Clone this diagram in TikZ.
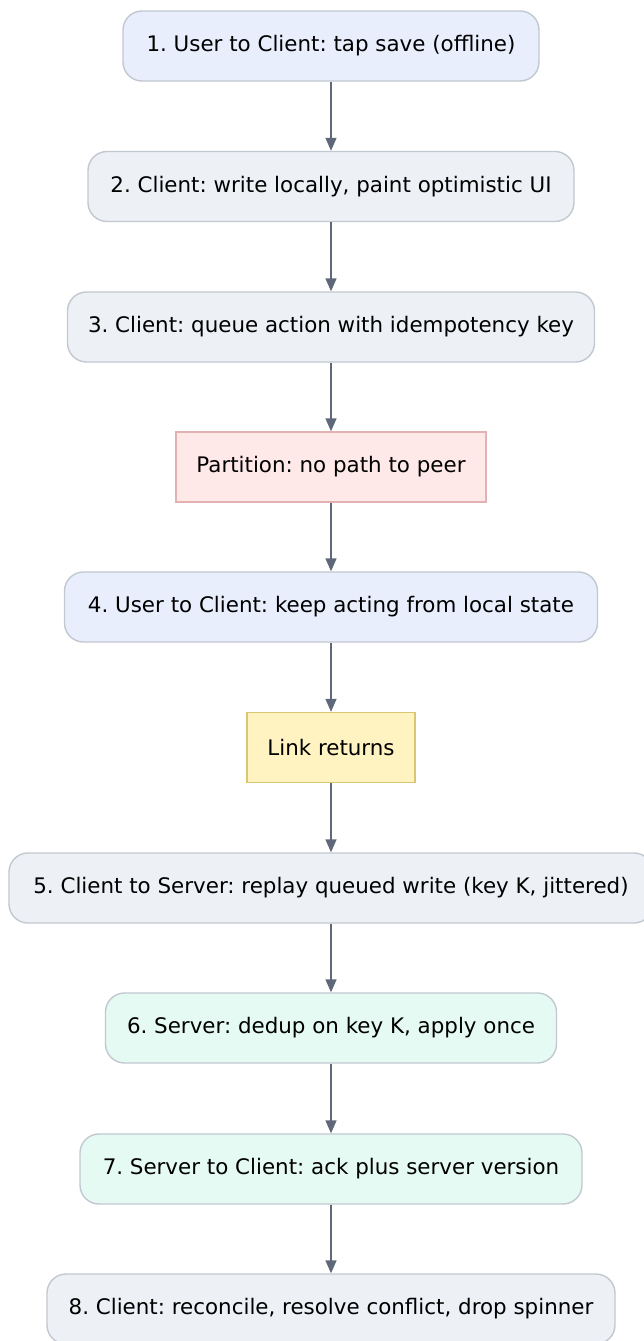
\documentclass[tikz,border=0pt]{standalone}
\usepackage{fontspec}
\setmainfont{DejaVu Sans}
\frenchspacing
\usetikzlibrary{arrows.meta}
\definecolor{edgegrey}{HTML}{C2C8D0}
\definecolor{fillblue}{HTML}{E8EEFC}
\definecolor{fillgrey}{HTML}{EDF1F6}
\definecolor{fillgreen}{HTML}{E6FAF4}
\definecolor{fillpink}{HTML}{FFE8E8}
\definecolor{edgepink}{HTML}{E2B2B2}
\definecolor{fillyellow}{HTML}{FFF3C2}
\definecolor{edgeyellow}{HTML}{DAC671}
\definecolor{arrowgrey}{HTML}{5E6878}
\tikzset{
  stepbox/.style={draw=edgegrey, line width=1.4pt, rounded corners=19pt,
    minimum height=70pt, inner sep=0pt, font=\fontsize{21.4}{25}\selectfont, text=black},
  eventbox/.style={line width=1.4pt, minimum height=70pt, inner sep=0pt,
    font=\fontsize{21.4}{25}\selectfont, text=black},
  flow/.style={draw=arrowgrey, line width=1.4pt, -{Triangle[length=13pt,width=11pt]}}
}
\begin{document}
\begin{tikzpicture}[x=1pt,y=1pt]
\useasboundingbox (0,0) rectangle (643,-1341);
\node[stepbox, fill=fillblue, minimum width=416pt] (s1) at (331,-46) {1. User to Client: tap save (offline)};
\node[stepbox, fill=fillgrey, minimum width=486pt] (s2) at (331,-186.5) {2. Client: write locally, paint optimistic UI};
\node[stepbox, fill=fillgrey, minimum width=527pt] (s3) at (331,-327) {3. Client: queue action with idempotency key};
\node[eventbox, draw=edgepink, fill=fillpink, minimum width=310pt] (part) at (331,-467) {Partition: no path to peer};
\node[stepbox, fill=fillblue, minimum width=533pt] (s4) at (331,-607) {4. User to Client: keep acting from local state};
\node[eventbox, draw=edgeyellow, fill=fillyellow, minimum width=168pt] (link) at (331,-747.5) {Link returns};
\node[stepbox, fill=fillgrey, minimum width=644pt] (s5) at (331,-888) {5. Client to Server: replay queued write (key K, jittered)};
\node[stepbox, fill=fillgreen, minimum width=451pt] (s6) at (331,-1028) {6. Server: dedup on key K, apply once};
\node[stepbox, fill=fillgreen, minimum width=502pt] (s7) at (331,-1169) {7. Server to Client: ack plus server version};
\node[stepbox, fill=fillgrey, minimum width=568pt] (s8) at (331,-1309) {8. Client: reconcile, resolve conflict, drop spinner};
\draw[flow] (s1) -- (s2);
\draw[flow] (s2) -- (s3);
\draw[flow] (s3) -- (part);
\draw[flow] (part) -- (s4);
\draw[flow] (s4) -- (link);
\draw[flow] (link) -- (s5);
\draw[flow] (s5) -- (s6);
\draw[flow] (s6) -- (s7);
\draw[flow] (s7) -- (s8);
\end{tikzpicture}
\end{document}
